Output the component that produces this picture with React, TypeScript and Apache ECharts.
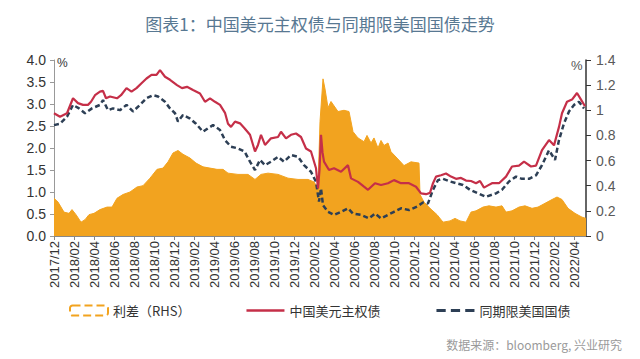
import React, { useEffect, useRef } from "react";
import * as echarts from "echarts";

// x = months since 2017/12
const chinaMonths = [0, 0.6, 1.3, 1.9, 2.4, 2.9, 3.4, 3.7, 4.1, 4.6, 4.9, 5.2, 5.6, 6.3, 6.7, 7.25, 7.75, 8.25, 8.75, 9.25, 9.75, 10.25, 10.6, 11.1, 11.6, 12.3, 12.8, 13.3, 13.9, 14.6, 15.1, 15.6, 16.1, 16.6, 17.1, 17.4, 17.7, 18.1, 18.6, 19.05, 19.6, 20.1, 20.4, 20.7, 21.1, 21.7, 22.4, 22.7, 23.2, 23.7, 24.2, 24.7, 25.2, 25.7, 26.2, 26.4, 26.55, 26.7, 26.85, 27.0, 27.5, 28.0, 28.7, 29.4, 29.7, 30.4, 31.0, 31.4, 32.1, 32.7, 33.4, 34.0, 34.7, 35.5, 36.2, 36.7, 37.2, 37.6, 37.9, 38.2, 38.7, 39.2, 39.7, 40.2, 40.7, 41.2, 41.7, 42.2, 42.6, 43.0, 43.4, 43.8, 44.5, 45.2, 45.8, 46.5, 47.0, 47.7, 48.2, 48.8, 49.5, 50.0, 50.5, 50.8, 51.3, 51.8, 52.3, 52.7, 53.1];
const chinaValues = [2.79, 2.71, 2.79, 3.13, 3.02, 2.98, 2.98, 3.05, 3.2, 3.28, 3.3, 3.13, 3.17, 3.13, 3.2, 3.36, 3.28, 3.36, 3.47, 3.58, 3.66, 3.66, 3.77, 3.62, 3.55, 3.43, 3.36, 3.39, 3.32, 3.24, 3.05, 3.13, 3.05, 2.98, 2.8, 2.55, 2.48, 2.6, 2.56, 2.45, 2.3, 1.92, 2.07, 2.3, 2.07, 2.22, 2.25, 2.37, 2.22, 2.3, 2.33, 2.25, 1.99, 1.92, 1.54, 1.08, 1.5, 2.3, 1.9, 1.69, 1.5, 1.54, 1.46, 1.61, 1.31, 1.23, 1.12, 1.05, 1.2, 1.16, 1.2, 1.27, 1.2, 1.2, 1.12, 0.97, 0.95, 0.98, 1.2, 1.35, 1.38, 1.42, 1.35, 1.3, 1.32, 1.26, 1.25, 1.2, 1.25, 1.1, 1.15, 1.2, 1.2, 1.35, 1.58, 1.6, 1.69, 1.58, 1.6, 1.95, 2.18, 2.06, 2.48, 2.79, 3.05, 3.1, 3.25, 3.1, 2.95];

const usMonths = [0, 0.6, 1.3, 1.9, 2.5, 3.1, 3.8, 4.6, 4.9, 5.4, 5.9, 6.6, 7.25, 7.9, 8.6, 9.25, 9.9, 10.4, 11.1, 11.6, 12.1, 12.4, 12.9, 13.6, 14.2, 14.9, 15.4, 15.9, 16.6, 17.1, 17.7, 18.4, 19.05, 19.6, 20.1, 20.6, 21.1, 21.7, 22.4, 23.0, 23.7, 24.4, 25.0, 25.7, 26.2, 26.5, 26.7, 26.9, 27.4, 28.0, 28.7, 29.4, 29.9, 30.7, 31.5, 32.1, 32.7, 33.4, 34.0, 34.7, 35.5, 36.3, 36.9, 37.4, 37.9, 38.4, 38.9, 39.6, 40.2, 40.9, 41.6, 42.4, 43.2, 44.2, 44.8, 45.5, 46.2, 46.8, 47.5, 48.2, 48.8, 49.5, 50.1, 50.5, 51.0, 51.5, 52.0, 52.5, 53.0];
const usValues = [2.52, 2.55, 2.71, 2.98, 2.9, 2.79, 2.9, 2.98, 3.09, 2.86, 2.9, 2.86, 2.98, 2.83, 2.98, 3.13, 3.2, 3.17, 3.05, 2.9, 2.79, 2.6, 2.75, 2.67, 2.55, 2.37, 2.45, 2.52, 2.41, 2.18, 2.03, 1.99, 1.92, 1.69, 1.5, 1.73, 1.61, 1.69, 1.8, 1.69, 1.84, 1.8, 1.61, 1.46, 1.23, 0.78, 1.08, 0.7, 0.55, 0.48, 0.55, 0.63, 0.51, 0.48, 0.4, 0.51, 0.4, 0.48, 0.55, 0.63, 0.59, 0.67, 0.76, 0.74, 1.05, 1.27, 1.3, 1.24, 1.2, 1.16, 1.05, 0.97, 0.89, 0.97, 1.05, 1.24, 1.35, 1.3, 1.3, 1.38, 1.61, 1.95, 1.73, 2.18, 2.56, 2.83, 2.98, 3.05, 2.9];

const spreadMonths = [0, 0.4, 1.0, 1.5, 1.8, 2.2, 2.7, 3.1, 3.5, 4.0, 4.6, 5.3, 5.8, 6.3, 6.9, 7.6, 8.3, 8.9, 9.6, 10.3, 10.9, 11.4, 11.9, 12.4, 12.9, 13.6, 14.2, 14.9, 15.6, 16.3, 16.9, 17.4, 18.4, 19.4, 20.1, 20.7, 21.4, 22.4, 23.4, 24.4, 25.4, 26.0, 26.4, 26.6, 26.9, 27.1, 27.4, 27.7, 28.4, 29.0, 29.5, 29.9, 30.4, 31.0, 31.3, 31.7, 32.0, 32.4, 32.7, 33.0, 33.4, 33.7, 34.3, 35.0, 35.7, 36.5, 36.6, 37.0, 37.6, 38.3, 38.9, 39.6, 40.1, 40.6, 41.2, 41.7, 42.2, 42.9, 43.5, 44.2, 44.8, 45.2, 45.8, 46.5, 47.1, 47.8, 48.4, 49.1, 49.8, 50.3, 50.8, 51.4, 52.1, 52.8, 53.2];
const spreadValues = [0.3, 0.27, 0.19, 0.18, 0.21, 0.17, 0.11, 0.13, 0.17, 0.18, 0.21, 0.23, 0.23, 0.3, 0.33, 0.35, 0.39, 0.4, 0.46, 0.53, 0.54, 0.59, 0.66, 0.68, 0.65, 0.62, 0.58, 0.55, 0.54, 0.53, 0.53, 0.5, 0.49, 0.49, 0.45, 0.49, 0.5, 0.49, 0.46, 0.45, 0.45, 0.43, 0.38, 0.91, 1.25, 1.17, 1.02, 1.07, 0.99, 1.0, 0.99, 0.83, 0.78, 0.75, 0.8, 0.74, 0.78, 0.7, 0.76, 0.72, 0.74, 0.67, 0.62, 0.56, 0.59, 0.58, 0.33, 0.27, 0.22, 0.17, 0.11, 0.12, 0.14, 0.12, 0.11, 0.19, 0.2, 0.23, 0.24, 0.23, 0.24, 0.19, 0.2, 0.23, 0.24, 0.22, 0.23, 0.26, 0.29, 0.31, 0.29, 0.22, 0.18, 0.15, 0.14];

const leftTicks = { min: 0, max: 4, interval: 0.5 };
const rightTicks = { min: 0, max: 1.4, interval: 0.2 };

const ORANGE = "#F2A31F";
const RED = "#C52F48";
const NAVY = "#2D3F55";

function pair(xs: number[], ys: number[]) {
  return xs.map((x, i) => [x, ys[i]]);
}

function monthLabel(v: number) {
  const t = 2017 * 12 + 11 + Math.round(v);
  return `${Math.floor(t / 12)}/${String((t % 12) + 1).padStart(2, "0")}`;
}

export default function App() {
  const ref = useRef<HTMLDivElement>(null);
  useEffect(() => {
    const chart = echarts.init(ref.current!, null, { renderer: "svg" });
    chart.setOption({
      animation: false,
      backgroundColor: "#fff",
      textStyle: { fontFamily: "Liberation Sans, Arial, sans-serif" },
      grid: { left: 54, right: 54, top: 60, bottom: 123 },
      graphic: [
        {
          type: "text",
          left: "center",
          top: 15,
          style: {
            text: "图表1：中国美元主权债与同期限美国国债走势",
            fontSize: 17,
            fill: "#587892",
            fontFamily: "Noto Sans CJK SC",
          },
        },
        { type: "text", left: 57, top: 57, style: { text: "%", fontSize: 12, fill: "#333" } },
        { type: "text", left: 571, top: 59, style: { text: "%", fontSize: 13, fill: "#555" } },
        {
          type: "text",
          right: 18,
          top: 338,
          style: {
            text: "数据来源：bloomberg, 兴业研究",
            fontSize: 12,
            fill: "#9a9a9a",
            fontFamily: "Noto Sans CJK SC",
          },
        },
      ],
      legend: {
        left: 64,
        top: 299,
        itemWidth: 38,
        itemHeight: 10,
        itemGap: 56,
        textStyle: { fontSize: 13, color: "#333", fontFamily: "Noto Sans CJK SC" },
        data: [
          {
            name: "利差（RHS）",
            icon: "roundRect",
            itemStyle: { color: "#FFFFFF", borderColor: ORANGE, borderWidth: 2, borderType: "dashed" },
          },
          {
            name: "中国美元主权债",
            icon: "path://M0,0h38v2.5h-38z",
            itemStyle: { color: RED, borderWidth: 0 },
          },
          {
            name: "同期限美国国债",
            icon: "path://M0,0h9v3h-9z M14,0h9v3h-9z M28,0h9v3h-9z",
            itemStyle: { color: NAVY, borderWidth: 0 },
          },
        ],
      },
      xAxis: {
        type: "value",
        min: 0,
        max: 53.2,
        interval: 2,
        splitLine: { show: false },
        axisLine: { lineStyle: { color: "#888" } },
        axisTick: { length: 4, lineStyle: { color: "#888" } },
        axisLabel: {
          rotate: 90,
          formatter: monthLabel,
          fontSize: 13,
          color: "#333",
          margin: 5,
          showMaxLabel: false,
        },
      },
      yAxis: [
        {
          type: "value",
          ...leftTicks,
          splitLine: { show: false },
          axisLine: { show: true, lineStyle: { color: "#999" } },
          axisTick: { show: true, length: 4, lineStyle: { color: "#999" } },
          axisLabel: { formatter: (v: number) => v.toFixed(1), fontSize: 14, color: "#333", margin: 8 },
        },
        {
          type: "value",
          ...rightTicks,
          splitLine: { show: false },
          axisLine: { show: true, lineStyle: { color: "#333", width: 1.5 } },
          axisTick: { show: true, length: 5, lineStyle: { color: "#333" } },
          axisLabel: { fontSize: 14, color: "#595959", margin: 10 },
        },
      ],
      series: [
        {
          name: "利差（RHS）",
          type: "line",
          yAxisIndex: 1,
          data: pair(spreadMonths, spreadValues),
          symbol: "none",
          color: ORANGE,
          lineStyle: { color: ORANGE, width: 1 },
          areaStyle: { color: ORANGE, opacity: 1 },
          z: 1,
        },
        {
          name: "中国美元主权债",
          type: "line",
          yAxisIndex: 0,
          data: pair(chinaMonths, chinaValues),
          symbol: "none",
          color: RED,
          lineStyle: { color: RED, width: 2.2 },
          z: 3,
        },
        {
          name: "同期限美国国债",
          type: "line",
          yAxisIndex: 0,
          data: pair(usMonths, usValues),
          symbol: "none",
          color: NAVY,
          lineStyle: { color: NAVY, width: 2.5, type: [5, 3] },
          z: 2,
        },
      ],
    });
    return () => chart.dispose();
  }, []);
  return <div ref={ref} style={{ position: "fixed", left: 0, top: 0, width: 640, height: 359 }} />;
}
